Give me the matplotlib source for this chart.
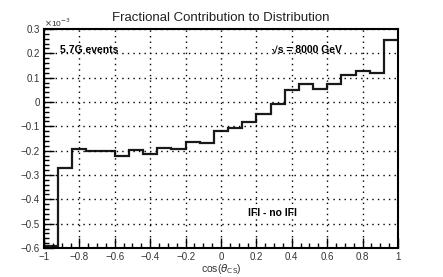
import numpy as np
import matplotlib
matplotlib.use("Agg")
from matplotlib import pyplot as plt
from matplotlib.ticker import MultipleLocator

plt.rcParams['font.family'] = ['Liberation Sans', 'DejaVu Sans']

# bin edges of cos(theta_CS), 25 bins
edges = np.linspace(-1.0, 1.0, 26)
# IFI - no IFI, in units of 1e-3
values = [-0.59, -0.271, -0.193, -0.203, -0.200, -0.221, -0.199, -0.215, -0.188,
          -0.193, -0.164, -0.170, -0.120, -0.107, -0.082, -0.049, -0.007, 0.049,
          0.075, 0.055, 0.073, 0.111, 0.129, 0.120, 0.253]

fig = plt.figure(figsize=(4.43, 2.77), dpi=100)
ax = fig.add_axes([0.0993, 0.1047, 0.7991, 0.7906])

ax.stairs(values, edges, color='#1a1a1a', lw=1.6, baseline=None)

ax.set_xlim(-1, 1)
ax.set_ylim(-0.6, 0.3)
ax.xaxis.set_major_locator(MultipleLocator(0.2))
ax.xaxis.set_minor_locator(MultipleLocator(0.05))
ax.yaxis.set_major_locator(MultipleLocator(0.1))
ax.yaxis.set_minor_locator(MultipleLocator(0.02))
ax.tick_params(which='both', direction='in', top=False, right=False,
               labelsize=7, width=1, colors='black', labelcolor='#333333')
ax.tick_params(which='major', length=7, pad=3)
ax.tick_params(which='minor', length=3.5)

xt = np.round(np.arange(-1, 1.01, 0.2), 1)
ax.set_xticks(xt)
ax.set_xticklabels(['\u22121' if v == -1 else ('1' if v == 1 else ('0' if v == 0 else f'{v:.1f}'.replace('-', '\u2212'))) for v in xt])
yt = np.round(np.arange(-0.6, 0.31, 0.1), 1)
ax.set_yticks(yt)
ax.set_yticklabels(['0' if v == 0 else f'{v:.1f}'.replace('-', '\u2212') for v in yt])

ax.grid(True, which='major', color='black', linestyle=(0, (1, 3)), lw=1)
for s in ax.spines.values():
    s.set_linewidth(1.5)

ax.set_xlabel(r'cos($\theta_{\mathrm{CS}}$)', fontsize=7.5, color='#333333', labelpad=0)
ax.set_title('Fractional Contribution to Distribution', fontsize=9.5, color='#222222', pad=6)
ax.text(0.0, 1.0, r'$\times$10$^{-3}$', transform=ax.transAxes, fontsize=6, color='#333333',
        ha='left', va='bottom')

ax.text(0.045, 0.905, '5.7G events', transform=ax.transAxes, fontsize=7.5, fontweight='bold',
        ha='left', va='center')
ax.text(0.645, 0.905, '\u221as = 8000 GeV', transform=ax.transAxes, fontsize=7.5,
        fontweight='bold', ha='left', va='center')
ax.text(0.575, 0.16, 'IFI - no IFI', transform=ax.transAxes, fontsize=7.5, fontweight='bold',
        ha='left', va='center')

fig.savefig('out.png', dpi=100)
